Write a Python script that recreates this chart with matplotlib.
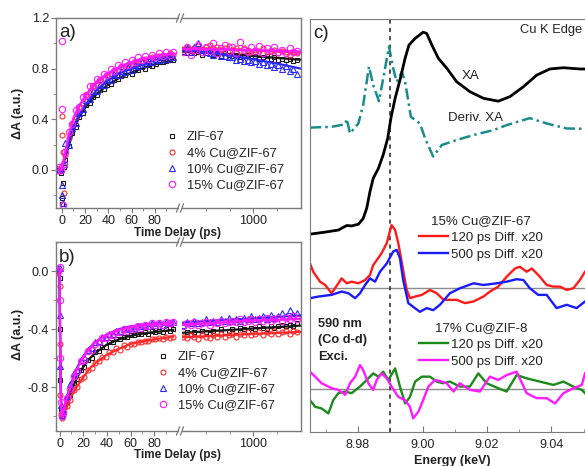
import matplotlib
matplotlib.use('Agg')
import matplotlib.pyplot as plt
from matplotlib.lines import Line2D
from matplotlib.legend import Legend

plt.rcParams['font.family'] = ['Liberation Sans', 'DejaVu Sans']
plt.rcParams['font.size'] = 9

# ---------------- data: panel a (rise, ps) ----------------
t_left = [-4, -2, -1, 0, 0.5, 1, 2, 3, 6, 9, 12, 15, 18, 21, 24, 27, 30, 33, 36, 39,
          42, 45, 48, 51, 54, 57, 60, 63, 66, 69, 72, 75, 78, 81, 84, 87, 90, 93, 96]
t_right = [260, 300, 340, 380, 420, 460, 500, 540, 580, 620, 660, 700, 740, 780, 820, 860,
           900, 940, 980, 1020, 1060, 1100, 1140, 1180, 1220, 1260, 1300, 1340, 1380, 1420, 1460]
t_fit_a = [0, 1, 3, 6, 10, 15, 20, 25, 30, 40, 50, 60, 70, 80, 90, 96]
t_fit_r = [250, 500, 750, 1000, 1250, 1500]

a_zif = [0.00, 0.01, -0.02, -0.22, -0.27, -0.10, 0.02, 0.08, 0.19, 0.29, 0.34, 0.42, 0.45, 0.51,
         0.53, 0.58, 0.59, 0.63, 0.64, 0.67, 0.68, 0.71, 0.72, 0.74, 0.75, 0.77, 0.76, 0.79, 0.79,
         0.81, 0.80, 0.83, 0.82, 0.84, 0.85, 0.85, 0.86, 0.87, 0.87]
a_cu4 = [0.01, -0.01, 0.02, 0.43, 0.28, 0.14, -0.18, 0.12, 0.25, 0.36, 0.42, 0.50, 0.53, 0.59,
         0.61, 0.66, 0.67, 0.71, 0.72, 0.75, 0.76, 0.78, 0.79, 0.81, 0.82, 0.83, 0.84, 0.85, 0.86,
         0.86, 0.88, 0.88, 0.89, 0.89, 0.90, 0.91, 0.90, 0.92, 0.91]
a_cu10 = [0.01, 0.00, 0.01, -0.12, -0.20, -0.26, 0.05, 0.21, 0.20, 0.33, 0.37, 0.45, 0.48, 0.55,
          0.56, 0.62, 0.62, 0.68, 0.67, 0.72, 0.71, 0.76, 0.75, 0.78, 0.77, 0.81, 0.79, 0.83, 0.82,
          0.85, 0.84, 0.86, 0.85, 0.88, 0.87, 0.90, 0.88, 0.91, 0.89]
a_cu15 = [0.00, 0.02, 0.00, 1.02, 0.48, -0.28, 0.05, 0.14, 0.30, 0.36, 0.47, 0.50, 0.58, 0.59,
          0.66, 0.66, 0.72, 0.71, 0.76, 0.75, 0.80, 0.78, 0.83, 0.81, 0.85, 0.83, 0.87, 0.85, 0.89,
          0.87, 0.90, 0.88, 0.91, 0.89, 0.92, 0.90, 0.93, 0.91, 0.93]

a_zif_r = [0.93, 0.92, 0.94, 0.92, 0.93, 0.91, 0.92, 0.93, 0.91, 0.92, 0.90, 0.92, 0.91, 0.90, 0.91,
           0.89, 0.90, 0.91, 0.89, 0.90, 0.88, 0.89, 0.90, 0.88, 0.89, 0.87, 0.88, 0.87, 0.88, 0.86, 0.87]
a_cu4_r = [0.95, 0.97, 0.94, 0.96, 0.98, 0.95, 0.97, 0.99, 0.96, 0.97, 0.95, 0.96, 0.98, 0.95, 0.96,
           0.94, 0.96, 0.95, 0.93, 0.95, 0.94, 0.96, 0.93, 0.94, 0.95, 0.92, 0.94, 0.93, 0.91, 0.93, 0.92]
a_cu10_r = [0.94, 0.96, 0.93, 0.97, 1.00, 0.95, 0.93, 0.92, 0.91, 0.92, 0.90, 0.90, 0.89, 0.89, 0.87,
            0.88, 0.86, 0.87, 0.85, 0.86, 0.84, 0.85, 0.83, 0.84, 0.81, 0.83, 0.80, 0.82, 0.78, 0.80, 0.76]
a_cu15_r = [0.93, 0.97, 0.91, 0.95, 0.99, 0.93, 0.97, 0.94, 1.00, 0.92, 0.96, 0.99, 0.94, 0.97, 0.92,
            1.01, 0.95, 0.93, 0.97, 0.94, 0.98, 0.92, 0.96, 0.94, 0.97, 0.93, 0.95, 0.92, 0.96, 0.93, 0.94]

fa_zif = [0.0, 0.04, 0.10, 0.19, 0.31, 0.42, 0.49, 0.55, 0.60, 0.675, 0.73, 0.77, 0.805, 0.835, 0.855, 0.87]
fa_cu4 = [0.0, 0.05, 0.13, 0.26, 0.40, 0.50, 0.58, 0.64, 0.69, 0.76, 0.81, 0.845, 0.87, 0.89, 0.905, 0.91]
fa_cu10 = [0.0, 0.04, 0.12, 0.22, 0.34, 0.44, 0.51, 0.57, 0.63, 0.71, 0.765, 0.80, 0.835, 0.865, 0.885, 0.895]
fa_cu15 = [0.0, 0.05, 0.14, 0.28, 0.41, 0.51, 0.58, 0.645, 0.70, 0.765, 0.815, 0.85, 0.875, 0.895, 0.91, 0.92]
far_zif = [0.935, 0.925, 0.915, 0.90, 0.885, 0.87]
far_cu4 = [0.965, 0.96, 0.955, 0.945, 0.935, 0.925]
far_cu10 = [0.955, 0.93, 0.905, 0.875, 0.84, 0.80]
far_cu15 = [0.955, 0.953, 0.95, 0.945, 0.94, 0.935]

# ---------------- data: panel b (bleach, ps) ----------------
t_left_b = [-2, -1, 0, 0.3, 0.6, 1, 2, 3, 6, 9, 12, 15, 18, 21, 24, 27, 30, 33, 36, 39,
            42, 45, 48, 51, 54, 57, 60, 63, 66, 69, 72, 75, 78, 81, 84, 87, 90, 93, 96]
t_fit_b = [0, 0.6, 1.5, 3, 6, 10, 15, 20, 25, 30, 40, 50, 60, 70, 80, 96]

b_zif = [0.00, 0.01, -0.05, -0.40, -0.75, -0.95, -1.00, -0.98,
         -0.90, -0.85, -0.77, -0.74, -0.68, -0.66, -0.61, -0.60, -0.56, -0.55, -0.52, -0.52, -0.49,
         -0.49, -0.47, -0.47, -0.45, -0.45, -0.44, -0.44, -0.43, -0.43, -0.42, -0.43, -0.41, -0.42,
         -0.41, -0.42, -0.40, -0.41, -0.40]
b_cu4 = [0.01, -0.01, -0.10, -0.50, -0.85, -0.98, -1.01, -0.99,
         -0.93, -0.89, -0.82, -0.80, -0.74, -0.73, -0.68, -0.67, -0.63, -0.62, -0.59, -0.59, -0.56,
         -0.56, -0.53, -0.54, -0.51, -0.52, -0.50, -0.50, -0.49, -0.49, -0.48, -0.48, -0.47, -0.47,
         -0.46, -0.47, -0.45, -0.46, -0.45]
b_cu10 = [0.00, 0.02, 0.02, -0.30, -0.65, -0.92, -0.99, -0.96,
          -0.86, -0.78, -0.70, -0.68, -0.61, -0.59, -0.54, -0.53, -0.49, -0.48, -0.45, -0.45, -0.43,
          -0.43, -0.41, -0.41, -0.40, -0.40, -0.39, -0.39, -0.38, -0.38, -0.37, -0.38, -0.36, -0.37,
          -0.36, -0.37, -0.35, -0.36, -0.35]
b_cu15 = [0.01, 0.00, 0.03, -0.20, -0.60, -0.90, -1.00, -0.97,
          -0.87, -0.81, -0.72, -0.69, -0.62, -0.61, -0.55, -0.54, -0.50, -0.49, -0.46, -0.46, -0.44,
          -0.44, -0.42, -0.42, -0.40, -0.41, -0.39, -0.40, -0.38, -0.39, -0.37, -0.38, -0.36, -0.37,
          -0.36, -0.37, -0.35, -0.36, -0.35]

b_zif_r = [-0.43, -0.42, -0.44, -0.42, -0.43, -0.41, -0.42, -0.43, -0.41, -0.42, -0.40, -0.42, -0.41,
           -0.40, -0.41, -0.39, -0.40, -0.41, -0.39, -0.40, -0.38, -0.39, -0.40, -0.38, -0.39, -0.38,
           -0.37, -0.38, -0.37, -0.38, -0.36]
b_cu4_r = [-0.45, -0.46, -0.44, -0.45, -0.47, -0.44, -0.45, -0.46, -0.44, -0.45, -0.43, -0.45, -0.44,
           -0.43, -0.45, -0.43, -0.44, -0.42, -0.44, -0.43, -0.42, -0.44, -0.42, -0.43, -0.41, -0.43,
           -0.42, -0.41, -0.43, -0.41, -0.42]
b_cu10_r = [-0.37, -0.35, -0.36, -0.34, -0.36, -0.35, -0.33, -0.35, -0.34, -0.35, -0.33, -0.34, -0.32,
            -0.34, -0.33, -0.34, -0.32, -0.33, -0.31, -0.33, -0.32, -0.31, -0.33, -0.30, -0.32, -0.31,
            -0.29, -0.31, -0.27, -0.30, -0.29]
b_cu15_r = [-0.38, -0.36, -0.37, -0.35, -0.37, -0.36, -0.35, -0.37, -0.35, -0.36, -0.34, -0.36, -0.35,
            -0.34, -0.35, -0.33, -0.35, -0.34, -0.33, -0.35, -0.33, -0.34, -0.32, -0.34, -0.33, -0.32,
            -0.34, -0.32, -0.33, -0.31, -0.33]

fb_zif = [0.0, -0.6, -1.0, -0.98, -0.91, -0.82, -0.73, -0.66, -0.605, -0.565, -0.505, -0.47, -0.445, -0.43, -0.42, -0.405]
fb_cu4 = [0.0, -0.6, -1.0, -0.99, -0.94, -0.86, -0.79, -0.73, -0.675, -0.635, -0.575, -0.535, -0.50, -0.485, -0.47, -0.45]
fb_cu10 = [0.0, -0.6, -1.0, -0.97, -0.87, -0.77, -0.66, -0.585, -0.53, -0.49, -0.435, -0.40, -0.38, -0.37, -0.36, -0.355]
fb_cu15 = [0.0, -0.6, -1.0, -0.97, -0.88, -0.78, -0.67, -0.59, -0.535, -0.49, -0.435, -0.405, -0.385, -0.37, -0.365, -0.355]
fbr_zif = [-0.425, -0.415, -0.405, -0.395, -0.385, -0.375]
fbr_cu4 = [-0.455, -0.448, -0.44, -0.432, -0.425, -0.418]
fbr_cu10 = [-0.355, -0.345, -0.335, -0.325, -0.315, -0.305]
fbr_cu15 = [-0.37, -0.36, -0.35, -0.34, -0.335, -0.33]

names = ['ZIF-67', '4% Cu@ZIF-67', '10% Cu@ZIF-67', '15% Cu@ZIF-67']

# ---------------- data: panel c (XANES, keV) ----------------
e_xa = [8.9651, 8.9698, 8.9739, 8.9765, 8.9780, 8.9801, 8.9816, 8.9827, 8.9837, 8.9847, 8.9863,
        8.9878, 8.9892, 8.9902, 8.9915, 8.9930, 8.9946, 8.9958, 8.9977, 9.0002, 9.0013, 9.0029,
        9.0049, 9.0075, 9.0106, 9.0147, 9.0189, 9.0235, 9.0271, 9.0313, 9.0354, 9.0395, 9.0437,
        9.0488, 9.0504]
xa = [4.79, 4.84, 4.89, 5.00, 4.99, 5.03, 5.17, 5.42, 5.82, 6.14, 6.38, 6.71, 7.11, 7.60, 8.08,
      8.52, 9.05, 9.37, 9.53, 9.68, 9.65, 9.37, 9.05, 8.81, 8.48, 8.24, 8.08, 8.01, 8.12, 8.36,
      8.64, 8.79, 8.82, 8.79, 8.79]

e_der = [8.9651, 8.9718, 8.9760, 8.9765, 8.9775, 8.9801, 8.9816, 8.9834, 8.9847, 8.9865, 8.9884,
         8.9896, 8.9909, 8.9920, 8.9936, 8.9946, 8.9964, 8.9992, 9.0008, 9.0033, 9.0060, 9.0106,
         9.0158, 9.0220, 9.0261, 9.0333, 9.0385, 9.0447, 9.0504]
deriv = [7.37, 7.39, 7.45, 7.58, 7.23, 7.47, 7.92, 8.85, 8.40, 8.01, 8.81, 9.33, 8.81, 8.48, 8.72,
         8.48, 7.63, 7.47, 7.11, 6.67, 6.95, 7.07, 7.19, 7.31, 7.43, 7.60, 7.47, 7.35, 7.34]

e_120 = [8.9651, 8.9661, 8.9682, 8.9698, 8.9718, 8.9739, 8.9749, 8.9765, 8.9780, 8.9801, 8.9822,
         8.9837, 8.9847, 8.9858, 8.9873, 8.9889, 8.9904, 8.9915, 8.9925, 8.9940, 8.9951, 8.9961,
         8.9977, 8.9998, 9.0023, 9.0044, 9.0064, 9.0075, 9.0106, 9.0132, 9.0158, 9.0189, 9.0209,
         9.0235, 9.0261, 9.0287, 9.0302, 9.0323, 9.0339, 9.0364, 9.0385, 9.0406, 9.0426, 9.0447,
         9.0468, 9.0488, 9.0504]
zif67_120 = [4.08, 3.88, 3.64, 3.56, 3.36, 3.60, 3.72, 3.60, 3.64, 3.60, 3.68, 3.80, 4.04, 4.16,
             4.33, 4.57, 5.01, 4.89, 4.57, 3.92, 3.44, 3.24, 3.28, 3.32, 3.44, 3.36, 3.21, 3.20,
             3.20, 3.12, 3.16, 3.28, 3.40, 3.52, 3.76, 3.96, 4.00, 3.88, 3.96, 3.76, 3.56, 3.52,
             3.52, 3.44, 3.48, 3.68, 3.88]

e_500 = [8.9651, 8.9677, 8.9718, 8.9749, 8.9770, 8.9791, 8.9806, 8.9822, 8.9837, 8.9853, 8.9868,
         8.9889, 8.9909, 8.9920, 8.9930, 8.9940, 8.9956, 8.9971, 8.9992, 9.0013, 9.0033, 9.0054,
         9.0085, 9.0116, 9.0158, 9.0189, 9.0230, 9.0261, 9.0292, 9.0313, 9.0333, 9.0359, 9.0385,
         9.0416, 9.0447, 9.0478, 9.0504]
zif67_500 = [3.24, 3.28, 3.32, 3.40, 3.36, 3.24, 3.36, 3.56, 3.72, 3.64, 3.88, 4.08, 4.37, 4.41,
             4.21, 3.68, 3.12, 3.03, 2.91, 3.00, 2.95, 3.08, 3.36, 3.48, 3.60, 3.56, 3.60, 3.64,
             3.70, 3.68, 3.48, 3.32, 3.32, 3.00, 3.08, 3.00, 3.16]

e_g = [8.9651, 8.9667, 8.9687, 8.9708, 8.9723, 8.9739, 8.9760, 8.9780, 8.9806, 8.9827, 8.9847,
       8.9863, 8.9878, 8.9894, 8.9915, 8.9930, 8.9946, 8.9961, 8.9977, 8.9998, 9.0023, 9.0044,
       9.0064, 9.0085, 9.0116, 9.0147, 9.0173, 9.0199, 9.0235, 9.0261, 9.0292, 9.0323, 9.0364,
       9.0406, 9.0437, 9.0468, 9.0494, 9.0504]
zif8_120 = [0.77, 0.61, 0.57, 0.45, 0.77, 0.94, 0.98, 0.94, 1.10, 1.26, 1.42, 1.34, 1.46, 1.26,
            1.54, 1.10, 0.69, 0.85, 1.22, 1.34, 1.34, 1.22, 1.18, 1.22, 1.10, 1.10, 1.42, 1.18,
            1.06, 0.98, 1.38, 1.30, 1.22, 1.14, 1.22, 1.10, 1.02, 0.94]

e_m = [8.9651, 8.9667, 8.9687, 8.9718, 8.9739, 8.9760, 8.9775, 8.9791, 8.9806, 8.9816, 8.9832,
       8.9847, 8.9858, 8.9873, 8.9889, 8.9904, 8.9925, 8.9946, 8.9961, 8.9971, 8.9987, 9.0002,
       9.0018, 9.0039, 9.0060, 9.0075, 9.0096, 9.0116, 9.0147, 9.0178, 9.0209, 9.0235, 9.0261,
       9.0292, 9.0323, 9.0354, 9.0385, 9.0411, 9.0437, 9.0468, 9.0494, 9.0504]
zif8_500 = [1.46, 1.34, 1.18, 1.06, 1.02, 0.90, 1.18, 1.34, 1.62, 1.50, 1.18, 1.02, 1.26, 1.42,
            1.30, 1.10, 0.85, 0.77, 0.61, 0.33, 0.49, 0.77, 1.10, 1.26, 1.22, 1.18, 0.98, 1.18,
            1.02, 0.98, 1.34, 1.26, 1.38, 1.46, 0.94, 0.82, 0.82, 0.69, 0.94, 1.06, 1.14, 1.42]

base_67 = 3.48
base_8 = 1.03
e_pump = 8.990

# ---------------- layout ----------------
W, H = 585, 466
spine_col = '#7a7a7a'
txt_col = '#222222'
styles = [('#1a1a1a', 's', 3.2), ('#ff2a2a', 'o', 3.6), ('#2a2aff', '^', 3.8), ('#ff1aff', 'o', 4.6)]


def box(x0, y0, x1, y1):
    return [x0 / W, 1 - y1 / H, (x1 - x0) / W, (y1 - y0) / H]


fig = plt.figure(figsize=(5.85, 4.66), dpi=100)


def break_mark(yy):
    # two short slashes where the time axis is broken
    for xs in (176.5, 180.5):
        fig.add_artist(Line2D([xs / W, (xs + 3) / W], [1 - (yy + 4) / H, 1 - (yy - 4) / H],
                              transform=fig.transFigure, color=spine_col, lw=0.9))


def time_panel(y0, y1, xlim_l, ylim, ymaj, ymin, tl, vl, tr, vr, tfl, fl, fr, tag, tag_y):
    axl = fig.add_axes(box(56, y0, 178, y1))
    axr = fig.add_axes(box(182, y0, 301, y1))
    for ax in (axl, axr):
        ax.set_ylim(ylim)
        for s in ax.spines.values():
            s.set_color(spine_col)
            s.set_linewidth(1)
        ax.tick_params(which='both', direction='out', color=spine_col, labelcolor=txt_col,
                       labelsize=9, pad=1.5)
        ax.tick_params(which='major', length=3.5)
        ax.tick_params(which='minor', length=2)
    axl.spines['right'].set_visible(False)
    axr.spines['left'].set_visible(False)
    axr.tick_params(axis='y', which='both', left=False, labelleft=False)
    axl.set_xlim(xlim_l)
    axr.set_xlim(250, 1500)
    axl.set_xticks([0, 20, 40, 60, 80])
    axl.set_xticks([10, 30, 50, 70, 90], minor=True)
    axr.set_xticks([1000])
    axr.set_xticks([500, 750, 1250], minor=True)
    axl.set_yticks(ymaj)
    axl.set_yticklabels(['%.1f' % v for v in ymaj])
    axl.set_yticks(ymin, minor=True)
    for (col, mk, ms), yl, yr, f1, f2 in zip(styles, vl, vr, fl, fr):
        axl.plot(tl, yl, ls='none', marker=mk, ms=ms, mfc='none', mec=col, mew=0.8)
        axr.plot(tr, yr, ls='none', marker=mk, ms=ms, mfc='none', mec=col, mew=0.8)
        axl.plot(tfl, f1, color=col, lw=1.6)
        axr.plot(t_fit_r, f2, color=col, lw=1.6)
    axl.text(0.025, tag_y, tag, transform=axl.transAxes, fontsize=13.5, va='center', color=txt_col)
    break_mark(y0)
    break_mark(y1)
    return axl, axr


time_panel(18, 208, (-5, 100), (-0.3, 1.2), [0.0, 0.4, 0.8, 1.2], [-0.2, 0.2, 0.6, 1.0],
           t_left, [a_zif, a_cu4, a_cu10, a_cu15], t_right, [a_zif_r, a_cu4_r, a_cu10_r, a_cu15_r],
           t_fit_a, [fa_zif, fa_cu4, fa_cu10, fa_cu15], [far_zif, far_cu4, far_cu10, far_cu15],
           'a)', 0.925)
time_panel(242, 431, (-3, 100), (-1.1, 0.2), [0.0, -0.4, -0.8], [-0.2, -0.6, -1.0],
           t_left_b, [b_zif, b_cu4, b_cu10, b_cu15], t_right, [b_zif_r, b_cu4_r, b_cu10_r, b_cu15_r],
           t_fit_b, [fb_zif, fb_cu4, fb_cu10, fb_cu15], [fbr_zif, fbr_cu4, fbr_cu10, fbr_cu15],
           'b)', 0.92)

handles = [Line2D([], [], ls='none', marker=mk, ms=ms, mfc='none', mec=col, mew=0.8)
           for col, mk, ms in styles]
for lx, ly in ((166, 131), (157, 351)):
    fig.legend(handles, names, loc='upper left', bbox_to_anchor=(lx / W, 1 - ly / H),
               frameon=False, fontsize=9.3, handlelength=1.0, handletextpad=0.6,
               labelspacing=0.32, borderpad=0, borderaxespad=0, labelcolor=txt_col)

for ly in (236, 458):
    fig.text(178 / W, 1 - ly / H, 'Time Delay (ps)', fontsize=8.5, fontweight='bold',
             ha='center', va='baseline', color=txt_col)
for ly in (113, 334):
    fig.text(18 / W, 1 - ly / H, 'ΔA (a.u.)', fontsize=9, fontweight='bold', rotation=90,
             ha='center', va='center', color=txt_col)

# ---------------- panel c ----------------
ax = fig.add_axes(box(310, 19, 585, 432))
ax.set_xlim(8.9651, 9.0504)
ax.set_ylim(0, 10)
ax.set_yticks([])
ax.set_xticks([8.98, 9.00, 9.02, 9.04])
ax.set_xticklabels(['8.98', '9.00', '9.02', '9.04'])
ax.set_xticks([8.97, 8.99, 9.01, 9.03, 9.05], minor=True)
ax.spines['right'].set_visible(False)
for s in ax.spines.values():
    s.set_color(spine_col)
ax.tick_params(which='both', direction='in', color=spine_col, labelcolor=txt_col, labelsize=9, pad=5)
ax.tick_params(which='major', length=4)
ax.tick_params(which='minor', length=2.5)

ax.axhline(base_67, color='#8c8c8c', lw=1)
ax.axhline(base_8, color='#8c8c8c', lw=1)
ax.axvline(e_pump, color='#333333', lw=1.2, ls=(0, (2.5, 2.5)))

ax.plot(e_der, deriv, color='#1a8c8c', lw=1.8, ls=(0, (4.5, 1.6, 1, 1.6)))
ax.plot(e_xa, xa, color='black', lw=2)
l120, = ax.plot(e_120, zif67_120, color='#ff1a1a', lw=1.7)
l500, = ax.plot(e_500, zif67_500, color='#1a1aff', lw=1.7)
g120, = ax.plot(e_g, zif8_120, color='#1a8a1a', lw=1.7)
m500, = ax.plot(e_m, zif8_500, color='#ff1aff', lw=1.7)

ax.text(0.012, 0.965, 'c)', transform=ax.transAxes, fontsize=13.5, va='center', color=txt_col)
ax.text(9.0495, 9.73, 'Cu K Edge', ha='right', va='center', fontsize=9.3, color=txt_col)
ax.text(9.0150, 8.62, 'XA', ha='center', va='center', fontsize=9.5, color=txt_col)
ax.text(9.0163, 7.60, 'Deriv. XA', ha='center', va='center', fontsize=9.5, color=txt_col)

for hs, title, ly in (([l120, l500], '15% Cu@ZIF-67', 215), ([g120, m500], '17% Cu@ZIF-8', 322)):
    leg = Legend(ax, hs, ['120 ps Diff. x20', '500 ps Diff. x20'], title=title, loc='upper left',
                 bbox_to_anchor=((419 - 310) / 275, (432 - ly) / 413), frameon=False,
                 fontsize=9.5, title_fontsize=9.5, handlelength=2.2, handletextpad=0.2,
                 labelspacing=0.36, borderpad=0, borderaxespad=0, labelcolor=txt_col)
    leg.get_title().set_color(txt_col)
    ax.add_artist(leg)

for label, yv in (('590 nm', 2.61), ('(Co d-d)', 2.23), ('Exci.', 1.82)):
    ax.text(8.9676, yv, label, fontweight='bold', fontsize=9.2, ha='left', va='center', color=txt_col)

fig.text(452 / W, 0.004, 'Energy (keV)', fontsize=9, fontweight='bold', ha='center',
         va='baseline', color=txt_col)

fig.savefig('out.png', dpi=100)
